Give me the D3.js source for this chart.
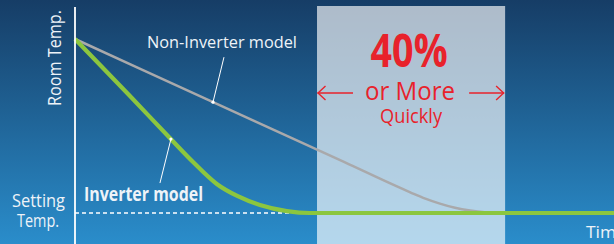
<!DOCTYPE html>
<html>
<head>
<meta charset="utf-8">
<script src="https://cdn.jsdelivr.net/npm/d3@7"></script>
<style>
  html, body { margin: 0; padding: 0; background: #1f6598; }
  svg { display: block; }
  text { font-family: "Open Sans", "Noto Sans", sans-serif; }
</style>
</head>
<body>
<svg id="chart" width="614" height="244"></svg>
<script>
// ---- data (time: 0..100 arbitrary units, temperature: 0 = setting temp, 100 = room temp)
const inverterTime  = [0, 10.2, 17.6, 21.9, 26.3, 30.1, 34.3, 39.3, 43.6, 100];
const inverterTemp  = [100, 67.2, 43.1, 29.3, 16.7, 9.8, 4.6, 1.1, 0, 0];
const nonInverterTime = [0, 25, 50, 62.2, 65, 67.7, 70.5, 73.3, 76, 79, 100];
const nonInverterTemp = [100, 64.6, 29.2, 11.9, 8.3, 5.4, 3.0, 1.4, 0.4, 0, 0];
const fasterRange = [44.9, 79.8];          // time span highlighted
const settingTemp = 0;
const seriesLabels = ["Inverter model", "Non-Inverter model"];
const axisLabels = ["Room Temp.", "Setting", "Temp.", "Time"];
const highlightLabels = ["40%", "or More", "Quickly"];
const labelAnchors = { inverter: [17.8, 42.5], nonInverter: [25.6, 63.7] };

const W = 614, H = 244;
const svg = d3.select("#chart");
const x = d3.scaleLinear().domain([0, 100]).range([75, 614]);
const y = d3.scaleLinear().domain([0, 100]).range([213, 39]);

// background gradient
const defs = svg.append("defs");
const bg = defs.append("linearGradient").attr("id", "bg").attr("x1", 0).attr("y1", 0).attr("x2", 0).attr("y2", 1);
bg.append("stop").attr("offset", "0%").attr("stop-color", "#163d66");
bg.append("stop").attr("offset", "100%").attr("stop-color", "#2a8dcb");
svg.append("rect").attr("width", W).attr("height", H).attr("fill", "url(#bg)");

// highlighted range
svg.append("rect")
  .attr("x", x(fasterRange[0])).attr("y", 6)
  .attr("width", x(fasterRange[1]) - x(fasterRange[0])).attr("height", H - 6)
  .attr("fill", "#ffffff").attr("fill-opacity", 0.65);

// setting temp dashed line
svg.append("line")
  .attr("x1", x(0)).attr("x2", x(100))
  .attr("y1", y(settingTemp)).attr("y2", y(settingTemp))
  .attr("stroke", "#ffffff").attr("stroke-width", 1.5).attr("stroke-dasharray", "4,3");

const line = d3.line().x(d => x(d[0])).y(d => y(d[1])).curve(d3.curveMonotoneX);
const nonInv = nonInverterTime.map((t, i) => [t, nonInverterTemp[i]]);
const inv = inverterTime.map((t, i) => [t, inverterTemp[i]]);

svg.append("path").datum(nonInv).attr("d", line)
  .attr("fill", "none").attr("stroke", "#a9a9ab").attr("stroke-width", 2.5);
svg.append("path").datum(inv).attr("d", line)
  .attr("fill", "none").attr("stroke", "#8cc63f").attr("stroke-width", 4.2);

// y axis line
svg.append("line")
  .attr("x1", x(0)).attr("x2", x(0)).attr("y1", 7).attr("y2", H)
  .attr("stroke", "#ffffff").attr("stroke-width", 1.8);

// leader lines
function leader(anchor, dx, dy) {
  const ax = x(anchor[0]), ay = y(anchor[1]);
  svg.append("line").attr("x1", ax).attr("y1", ay).attr("x2", ax + dx).attr("y2", ay + dy)
    .attr("stroke", "#ffffff").attr("stroke-width", 1);
  svg.append("circle").attr("cx", ax).attr("cy", ay).attr("r", 1.6).attr("fill", "#ffffff");
}
leader(labelAnchors.nonInverter, 11, -45);
leader(labelAnchors.inverter, -11, 44);

function txt(s, px, py, size, len, opts = {}) {
  const t = svg.append("text").text(s)
    .attr("x", px).attr("y", py)
    .attr("font-size", size)
    .attr("fill", opts.fill || "#eef3f8")
    .attr("font-weight", opts.bold ? 700 : 400)
    .attr("text-anchor", opts.anchor || "start");
  if (len) t.attr("textLength", len).attr("lengthAdjust", "spacingAndGlyphs");
  if (opts.transform) t.attr("transform", opts.transform);
  return t;
}

// series labels
txt(seriesLabels[1], 147, 48, 17, 150);
txt(seriesLabels[0], 84, 201, 19, 119, { bold: true });

// axis labels
txt(axisLabels[0], 0, 0, 19, 96, { transform: "translate(61,106) rotate(-90)" });
txt(axisLabels[1], 38.5, 207, 18.5, 53, { anchor: "middle" });
txt(axisLabels[2], 38, 227, 18.5, 42, { anchor: "middle" });
txt(axisLabels[3], 586, 238, 17, 40);

// highlight texts
const red = "#e8222b";
const cx = (x(fasterRange[0]) + x(fasterRange[1])) / 2;
txt(highlightLabels[0], cx - 2, 67, 46, 77, { anchor: "middle", bold: true, fill: red });
txt(highlightLabels[1], cx - 1, 100, 25, 90, { anchor: "middle", fill: red });
txt(highlightLabels[2], cx, 123, 20, 62, { anchor: "middle", fill: red });

// arrows
const ay = 93;
const x0 = x(fasterRange[0]), x1 = x(fasterRange[1]);
const arrow = svg.append("g").attr("stroke", red).attr("stroke-width", 1.4).attr("fill", "none");
arrow.append("line").attr("x1", x0 + 0.5).attr("x2", x0 + 36).attr("y1", ay).attr("y2", ay);
arrow.append("polyline").attr("points", `${x0 + 8.5},${ay - 7} ${x0 + 1},${ay} ${x0 + 8.5},${ay + 7}`);
arrow.append("line").attr("x1", x1 - 36).attr("x2", x1 - 1).attr("y1", ay).attr("y2", ay);
arrow.append("polyline").attr("points", `${x1 - 9},${ay - 7} ${x1 - 1.5},${ay} ${x1 - 9},${ay + 7}`);
</script>
</body>
</html>
